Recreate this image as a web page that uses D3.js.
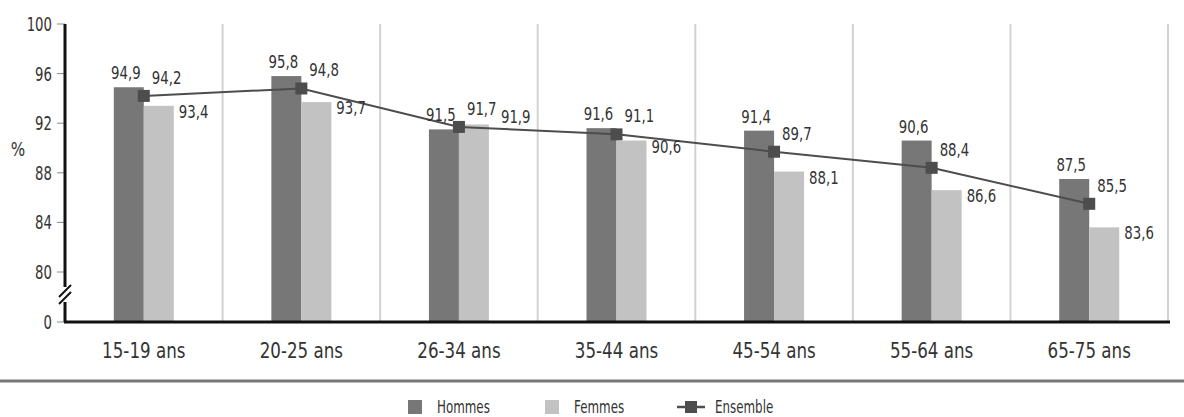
<!DOCTYPE html>
<html>
<head>
<meta charset="utf-8">
<script src="https://cdn.jsdelivr.net/npm/d3@7"></script>
<style>
  body { margin: 0; background: #fff; }
  text { font-family: "DejaVu Sans", sans-serif; fill: #333; }
</style>
</head>
<body>
<div id="vis"></div>
<script>
// chart size
const FRAME_WIDTH = 1184;
const FRAME_HEIGHT = 417;

// data
const categories = ["15-19 ans", "20-25 ans", "26-34 ans", "35-44 ans", "45-54 ans", "55-64 ans", "65-75 ans"];
const hommes = [94.9, 95.8, 91.5, 91.6, 91.4, 90.6, 87.5];
const femmes = [93.4, 93.7, 91.9, 90.6, 88.1, 86.6, 83.6];
const ensemble = [94.2, 94.8, 91.7, 91.1, 89.7, 88.4, 85.5];
const yTicks = [0, 80, 84, 88, 92, 96, 100];

const fmt = (v) => d3.format(".1f")(v).replace(".", ",");
// no condensed font installed, so squeeze the text horizontally
const squeeze = (px, py, sx) => `translate(${px},${py}) scale(${sx},1)`;

const svg = d3.select("#vis")
  .append("svg")
    .attr("width", FRAME_WIDTH)
    .attr("height", FRAME_HEIGHT);

// x: one band per age group
const x = d3.scaleBand()
  .domain(categories)
  .range([65, 1168])
  .padding(0);

// y: broken axis, 0 then jump to 80..100
const y = d3.scaleLinear()
  .domain([0, 80, 100])
  .range([322, 272, 24]);

const BAR_W = 30;
const cx = (i) => x(categories[i]) + x.bandwidth() / 2;

// vertical separators
svg.selectAll(".grid")
  .data(categories)
  .enter()
  .append("line")
    .attr("x1", (d) => x(d) + x.bandwidth())
    .attr("x2", (d) => x(d) + x.bandwidth())
    .attr("y1", y(100))
    .attr("y2", y(0))
    .attr("stroke", "#d2d2d2")
    .attr("stroke-width", 2);

// y ticks and labels
svg.selectAll(".ytick")
  .data(yTicks)
  .enter()
  .append("line")
    .attr("x1", 57)
    .attr("x2", 65)
    .attr("y1", (d) => y(d))
    .attr("y2", (d) => y(d))
    .attr("stroke", "#888")
    .attr("stroke-width", 1);

svg.selectAll(".ylab")
  .data(yTicks)
  .enter()
  .append("text")
    .attr("transform", (d) => squeeze(52, y(d) + 7, 0.7))
    .attr("text-anchor", "end")
    .attr("font-size", 19)
    .text((d) => d);

svg.append("text")
  .attr("transform", squeeze(18, 156, 0.8))
  .attr("text-anchor", "middle")
  .attr("font-size", 19)
  .text("%");

// bars
svg.selectAll(".hommes")
  .data(hommes)
  .enter()
  .append("rect")
    .attr("x", (d, i) => cx(i) - BAR_W)
    .attr("y", (d) => y(d))
    .attr("width", BAR_W)
    .attr("height", (d) => y(0) - y(d))
    .attr("fill", "#777777");

svg.selectAll(".femmes")
  .data(femmes)
  .enter()
  .append("rect")
    .attr("x", (d, i) => cx(i))
    .attr("y", (d) => y(d))
    .attr("width", BAR_W)
    .attr("height", (d) => y(0) - y(d))
    .attr("fill", "#c2c2c2");

// axes lines
svg.append("line")
  .attr("x1", 65).attr("x2", 65)
  .attr("y1", y(100)).attr("y2", 287)
  .attr("stroke", "#111").attr("stroke-width", 3);
svg.append("line")
  .attr("x1", 65).attr("x2", 65)
  .attr("y1", 302).attr("y2", y(0))
  .attr("stroke", "#111").attr("stroke-width", 3);
// break marks
svg.selectAll(".brk")
  .data([0, 7])
  .enter()
  .append("line")
    .attr("x1", 59).attr("x2", 71)
    .attr("y1", (d) => 297 + d).attr("y2", (d) => 285 + d)
    .attr("stroke", "#111").attr("stroke-width", 2);

svg.append("line")
  .attr("x1", 64).attr("x2", 1170)
  .attr("y1", y(0)).attr("y2", y(0))
  .attr("stroke", "#111").attr("stroke-width", 3);

// ensemble line
const line = d3.line()
  .x((d, i) => cx(i))
  .y((d) => y(d));

svg.append("path")
  .datum(ensemble)
  .attr("d", line)
  .attr("fill", "none")
  .attr("stroke", "#4d4d4d")
  .attr("stroke-width", 2);

svg.selectAll(".mark")
  .data(ensemble)
  .enter()
  .append("rect")
    .attr("x", (d, i) => cx(i) - 6)
    .attr("y", (d) => y(d) - 6)
    .attr("width", 12)
    .attr("height", 12)
    .attr("fill", "#4d4d4d");

// value labels
svg.selectAll(".lh")
  .data(hommes)
  .enter()
  .append("text")
    .attr("transform", (d, i) => squeeze(cx(i) - BAR_W / 2 - 3, y(d) - 8, 0.72))
    .attr("text-anchor", "middle")
    .attr("font-size", 18.5)
    .text((d) => fmt(d));

svg.selectAll(".le")
  .data(ensemble)
  .enter()
  .append("text")
    .attr("transform", (d, i) => squeeze(cx(i) + 8, y(d) - 12, 0.72))
    .attr("font-size", 18.5)
    .text((d) => fmt(d));

// femmes label goes above the line when the two are too close
svg.selectAll(".lf")
  .data(femmes)
  .enter()
  .append("text")
    .attr("transform", (d, i) => {
      const close = Math.abs(d - ensemble[i]) < 0.5;
      return squeeze(cx(i) + BAR_W + (close ? 12 : 5), close ? y(d) - 1 : y(d) + 12, 0.72);
    })
    .attr("font-size", 18.5)
    .text((d) => fmt(d));

// x labels
svg.selectAll(".xlab")
  .data(categories)
  .enter()
  .append("text")
    .attr("transform", (d) => squeeze(x(d) + x.bandwidth() / 2, 358, 0.76))
    .attr("text-anchor", "middle")
    .attr("font-size", 22)
    .text((d) => d);

// separator
svg.append("line")
  .attr("x1", 0).attr("x2", FRAME_WIDTH)
  .attr("y1", 381).attr("y2", 381)
  .attr("stroke", "#777").attr("stroke-width", 3);

// legend
const LEG_Y = 407;
svg.append("rect").attr("x", 408).attr("y", LEG_Y - 7).attr("width", 14).attr("height", 14).attr("fill", "#777777");
svg.append("text").attr("transform", squeeze(437, LEG_Y + 6, 0.66)).attr("font-size", 18).text("Hommes");
svg.append("rect").attr("x", 545).attr("y", LEG_Y - 7).attr("width", 14).attr("height", 14).attr("fill", "#c2c2c2");
svg.append("text").attr("transform", squeeze(574, LEG_Y + 6, 0.66)).attr("font-size", 18).text("Femmes");
svg.append("line").attr("x1", 677).attr("x2", 705).attr("y1", LEG_Y).attr("y2", LEG_Y)
  .attr("stroke", "#4d4d4d").attr("stroke-width", 2.5);
svg.append("rect").attr("x", 685).attr("y", LEG_Y - 6).attr("width", 12).attr("height", 12).attr("fill", "#4d4d4d");
svg.append("text").attr("transform", squeeze(715, LEG_Y + 6, 0.66)).attr("font-size", 18).text("Ensemble");
</script>
</body>
</html>
